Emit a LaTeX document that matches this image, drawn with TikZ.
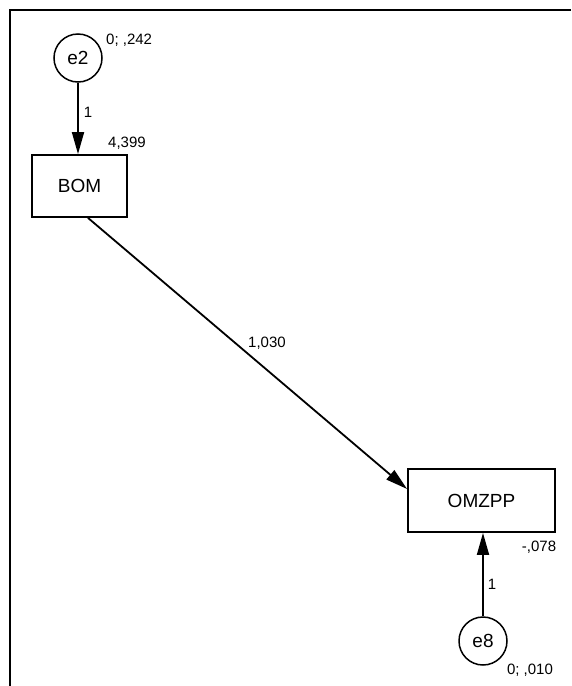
\documentclass[tikz,border=0pt]{standalone}
\usepackage{fontspec}
\setmainfont{Liberation Sans}
\usetikzlibrary{arrows.meta,calc}
\tikzset{
  latent/.style={draw, circle, line width=1.5pt, minimum size=48pt, inner sep=0pt, font=\fontsize{19}{19}\selectfont},
  observed/.style={draw, rectangle, line width=1.8pt, inner sep=0pt, font=\fontsize{19}{19}\selectfont},
  lbl/.style={font=\fontsize{15}{15}\selectfont, inner sep=0pt},
  path/.style={line width=1.8pt, -{Triangle[length=22pt,width=12pt]}},
  frame/.style={line width=2pt}
}
\begin{document}
\begin{tikzpicture}[x=1pt,y=-1pt]
\useasboundingbox (0,0) rectangle (571,686);
\draw[frame] (571,10) -- (10,10) -- (10,686);
\node[latent] (e2) at (78,58) {e2};
\node[observed, minimum width=95pt, minimum height=62pt] (BOM) at (79.5,186) {BOM};
\node[observed, minimum width=147pt, minimum height=63pt] (OMZPP) at (481.5,500.5) {OMZPP};
\node[latent] (e8) at (483,641) {e8};
\draw[path] (e2.south) -- (e2.south |- BOM.north);
\draw[path] ($(BOM.south)+(8.5,0)$) -- ($(OMZPP.west)+(0,-11.5)$);
\draw[path] (e8.north) -- (e8.north |- OMZPP.south);
\node[lbl, anchor=west] (l1) at (106,40) {0; ,242};
\node[lbl] (l2) at (88,112) {1};
\node[lbl] (l3) at (127,143) {4,399};
\node[lbl] (l4) at (267,343) {1,030};
\node[lbl] (l5) at (539,547) {-,078};
\node[lbl] (l6) at (492,584) {1};
\node[lbl] (l7) at (530,670) {0; ,010};
\end{tikzpicture}
\end{document}
